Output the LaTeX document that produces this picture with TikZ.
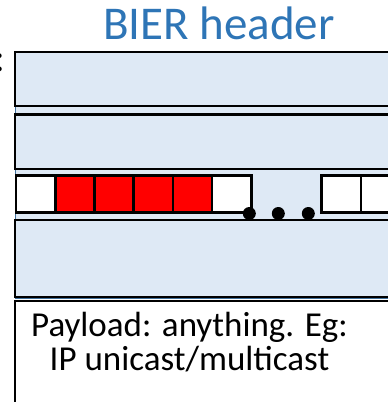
\documentclass[tikz,border=0pt]{standalone}
\usepackage{fontspec}
\setmainfont{Carlito}
\usetikzlibrary{positioning}
\definecolor{hdrblue}{RGB}{46,117,182}
\definecolor{rowfill}{RGB}{222,233,245}
\definecolor{rowedge}{RGB}{65,113,156}

\begin{document}
\begin{tikzpicture}[x=1pt, y=-1pt,
    every node/.style={inner sep=0pt, outer sep=0pt},
    hdrback/.style={rectangle, draw=rowedge, line width=1pt, fill=rowfill, minimum width=385pt, minimum height=246pt},
    hdrrow/.style={rectangle, draw=black, line width=2.4pt, fill=rowfill, minimum width=385pt},
    bitcell/.style={rectangle, draw=black, line width=2.6pt, minimum width=39.2pt, minimum height=37pt},
    gapdot/.style={circle, fill=black, minimum size=13pt},
    paybox/.style={rectangle, draw=black, line width=2.4pt, fill=white, minimum width=385pt, minimum height=110pt}
]
    \useasboundingbox (0,0) rectangle (388,402);

    % header fields
    \node[hdrback] (hdr) at (207.5,175) {};
    \node[hdrrow, minimum height=54pt] (row1) at (207.5,79) {};
    \node[hdrrow, minimum height=54.5pt] (row2) at (207.5,141.75) {};
    \node[hdrrow, minimum height=77pt] (row3) at (207.5,258.5) {};

    % bit string
    \foreach \i/\col in {0/white,1/red,2/red,3/red,4/red,5/white}
        \node[bitcell, fill=\col] (bit\i) at ({35.6+39.2*\i},194.2) {};
    \node[bitcell, fill=white] (tail0) at (341.35,194.2) {};
    \node[bitcell, fill=white] (tail1) at (380.65,194.2) {};
    \foreach \i/\x in {0/249.3,1/278.3,2/308.3}
        \node[gapdot] (dot\i) at (\x,213.5) {};

    % payload
    \node[paybox] (pay) at (207.5,356) {};
    \node[font=\fontsize{35}{34.7}\selectfont, align=center, anchor=base] (paytext) at (189.5,370.7) {Payload: anything. Eg:\\IP unicast/multicast};

    \node[font=\fontsize{47}{47}\selectfont, text=hdrblue, anchor=base] (title) at (219,39) {BIER header};
    \node[font=\fontsize{40}{40}\selectfont, anchor=base] (colon) at (0,71.5) {:};
\end{tikzpicture}
\end{document}
